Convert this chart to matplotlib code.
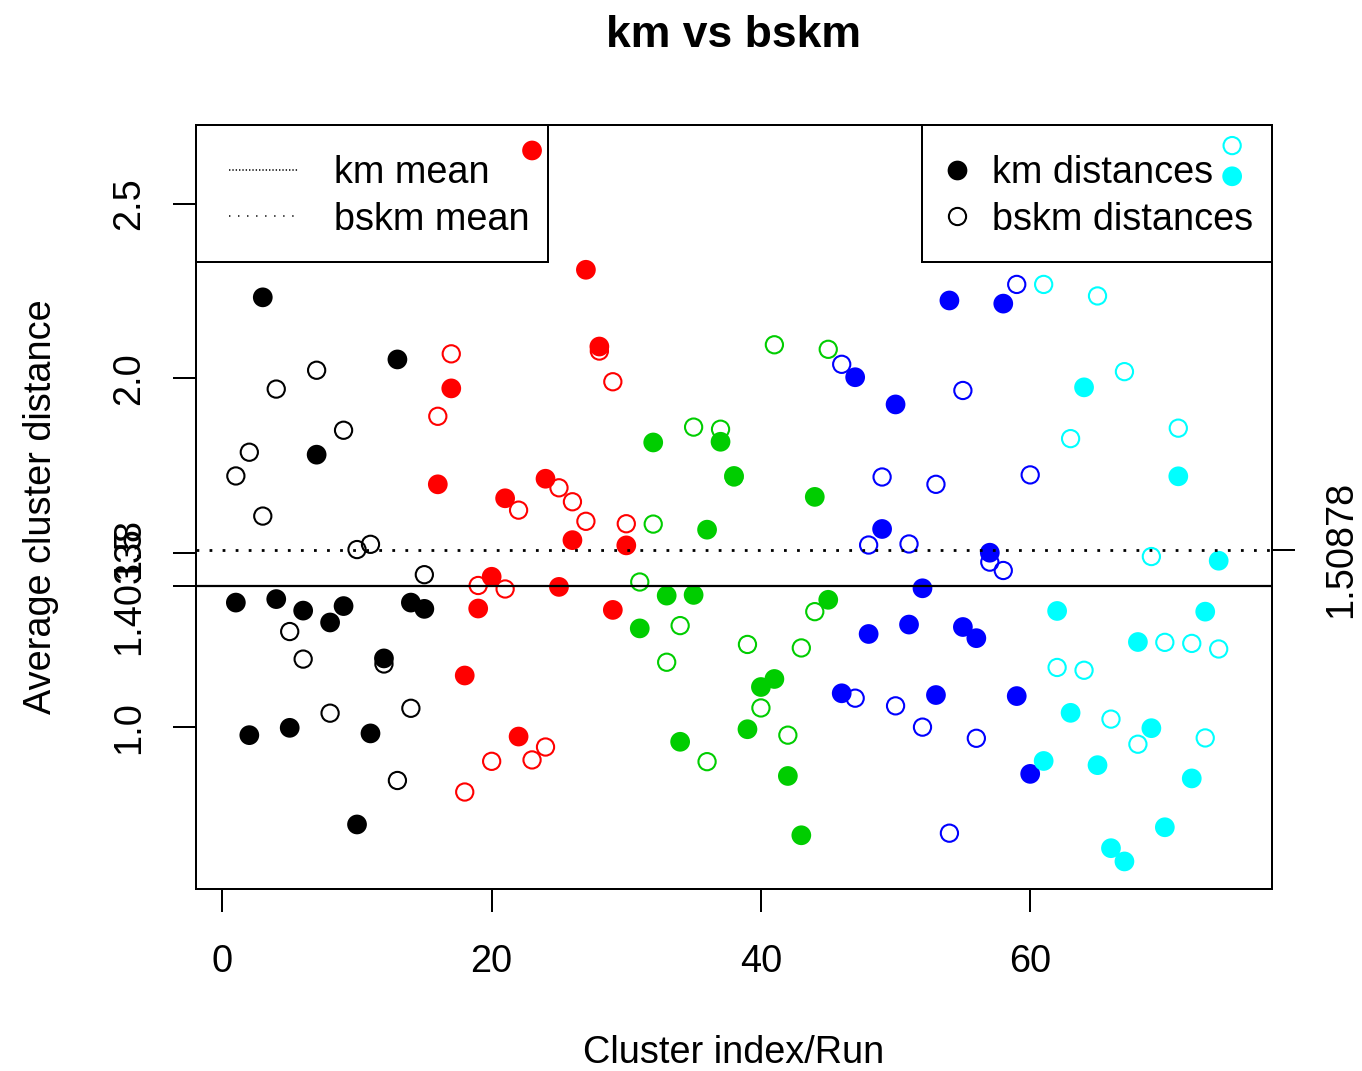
import matplotlib
matplotlib.use("Agg")
import matplotlib.pyplot as plt
from matplotlib.lines import Line2D
from matplotlib.patches import Rectangle
import numpy as np

plt.rcParams['font.family'] = ['Liberation Sans', 'DejaVu Sans']
plt.rcParams['lines.scale_dashes'] = False

# Average cluster distance per run, five groups of 15 runs each
km_black = [1.357, 0.977, 2.232, 1.367, 0.998, 1.334, 1.781, 1.300, 1.347, 0.721,
            0.982, 1.197, 2.054, 1.357, 1.339]
km_red = [1.696, 1.971, 1.148, 1.340, 1.431, 1.656, 0.973, 2.653, 1.712, 1.402,
          1.536, 2.311, 2.091, 1.336, 1.521]
km_green = [1.283, 1.816, 1.377, 0.958, 1.379, 1.566, 1.818, 1.720, 0.994, 1.115,
            1.138, 0.860, 0.690, 1.660, 1.365]
km_blue = [1.097, 2.003, 1.267, 1.568, 1.925, 1.294, 1.398, 1.092, 2.223, 1.287,
           1.255, 1.500, 2.214, 1.089, 0.866]
km_cyan = [0.903, 1.333, 1.041, 1.974, 0.891, 0.653, 0.615, 1.244, 0.997, 0.713,
           1.719, 0.853, 1.331, 1.477, 2.579]

bskm_black = [1.720, 1.788, 1.605, 1.969, 1.274, 1.195, 2.023, 1.040, 1.851, 1.509,
              1.524, 1.181, 0.847, 1.054, 1.437]
bskm_red = [1.891, 2.070, 0.814, 1.406, 0.902, 1.396, 1.622, 0.906, 0.943, 1.686,
            1.646, 1.590, 2.078, 1.990, 1.583]
bskm_green = [1.416, 1.582, 1.186, 1.291, 1.860, 0.901, 1.854, 1.717, 1.237, 1.055,
              2.096, 0.977, 1.227, 1.331, 2.083]
bskm_blue = [2.040, 1.083, 1.522, 1.717, 1.061, 1.525, 1.000, 1.696, 0.696, 1.965,
             0.968, 1.473, 1.449, 2.269, 1.723]
bskm_cyan = [2.269, 1.171, 1.827, 1.163, 2.236, 1.023, 2.019, 0.951, 1.489, 1.243,
             1.857, 1.240, 0.969, 1.224, 2.667]

group_colors = ['#000000', '#FF0000', '#00CD00', '#0000FF', '#00FFFF']

km_mean = 1.40338
bskm_mean = 1.50878

x_ticks = [0, 20, 40, 60]
y_ticks = [1.0, 1.5, 2.0, 2.5]
y_tick_labels = ['1.0', '1.5', '2.0', '2.5']

km = np.concatenate([km_black, km_red, km_green, km_blue, km_cyan])
bskm = np.concatenate([bskm_black, bskm_red, bskm_green, bskm_blue, bskm_cyan])
runs = np.arange(1, len(km) + 1)
point_colors = np.repeat(group_colors, len(km_black))

FS = 27.3
FILLED_MS = 14.2
OPEN_MS = 12.4
W, H = 1362, 1071
AX_L, AX_R, AX_T, AX_B = 196, 1272, 125, 889
AX_W, AX_H = AX_R - AX_L, AX_B - AX_T


def fx(px):
    """Horizontal pixel position -> axes fraction."""
    return (px - AX_L) / AX_W


def fy(py):
    """Vertical pixel position (from top) -> axes fraction."""
    return (AX_B - py) / AX_H


fig = plt.figure(figsize=(W / 100, H / 100), dpi=100)
ax = fig.add_axes([AX_L / W, 1 - AX_B / H, AX_W / W, AX_H / H])

ax.scatter(runs, bskm, s=OPEN_MS ** 2, facecolors='none', edgecolors=point_colors,
           linewidths=1.5, zorder=2)
ax.scatter(runs, km, s=FILLED_MS ** 2, c=point_colors, linewidths=0, zorder=3)

ax.axhline(km_mean, color='black', lw=1.6, zorder=4)
ax.axhline(bskm_mean, color='black', lw=2.0, dashes=(2.0, 7.4),
           dash_capstyle='butt', zorder=4)

ax.set_xlim(-1.96, 77.96)
ax.set_ylim(0.536, 2.726)

ax.set_xticks(x_ticks)
ax.set_xticklabels([str(t) for t in x_ticks])
ax.set_yticks(y_ticks + [km_mean])
ax.set_yticklabels(y_tick_labels + [f"{km_mean:.5f}"])

for sp in ax.spines.values():
    sp.set_linewidth(1.44)

ax.tick_params(axis='both', direction='out', length=16.5, width=1.44,
               labelsize=FS)
ax.tick_params(axis='x', pad=23)
ax.tick_params(axis='y', pad=18.5, labelrotation=90)
plt.setp(ax.get_yticklabels(), va='center')

ax2 = ax.twinx()
ax2.set_ylim(ax.get_ylim())
ax2.set_yticks([bskm_mean])
ax2.set_yticklabels([f"{bskm_mean:.5f}"])
ax2.tick_params(axis='y', direction='out', length=16.5, width=1.44,
                labelsize=FS, pad=20, labelrotation=90)
plt.setp(ax2.get_yticklabels(), va='center')
for sp in ax2.spines.values():
    sp.set_visible(False)

# Legend boxes
box_bottom = fy(262)
ax2.add_patch(Rectangle((0, box_bottom), fx(548), 1 - box_bottom,
                        transform=ax2.transAxes, fill=False, lw=1.44,
                        edgecolor='black', zorder=5, clip_on=False))
ax2.add_patch(Rectangle((fx(922), box_bottom), 1 - fx(922), 1 - box_bottom,
                        transform=ax2.transAxes, fill=False, lw=1.44,
                        edgecolor='black', zorder=5, clip_on=False))

mean_handles = [
    Line2D([], [], color='black', lw=1.1, dashes=(1.0, 1.4)),
    Line2D([], [], color='black', lw=1.1, dashes=(1.0, 5.5)),
]
leg1 = ax2.legend(mean_handles, ['km mean', 'bskm mean'], loc='upper left',
                  bbox_to_anchor=(fx(229), fy(155)), borderaxespad=0,
                  fontsize=FS, frameon=False, handlelength=1.85,
                  handletextpad=0.92, borderpad=0, labelspacing=0.28)
ax2.add_artist(leg1)

dist_handles = [
    Line2D([], [], ls='none', marker='o', color='black', ms=FILLED_MS, mew=0),
    Line2D([], [], ls='none', marker='o', mfc='none', mec='black', ms=OPEN_MS,
           mew=1.5),
]
leg2 = ax2.legend(dist_handles, ['km distances', 'bskm distances'],
                  loc='upper left', bbox_to_anchor=(fx(945.6), fy(155)),
                  borderaxespad=0, fontsize=FS, frameon=False,
                  handlelength=0.6, handletextpad=0.625, borderpad=0,
                  labelspacing=0.28)

fig.text(734 / W, 1 - 47 / H, 'km vs bskm', ha='center', va='baseline',
         fontsize=32, fontweight='bold')
fig.text(734 / W, 1 - 1053 / H, 'Cluster index/Run', ha='center', va='center',
         fontsize=FS)
fig.text(41 / W, 1 - 507 / H, 'Average cluster distance', ha='center',
         va='center', rotation=90, fontsize=FS)

fig.savefig('out.png', dpi=100)
